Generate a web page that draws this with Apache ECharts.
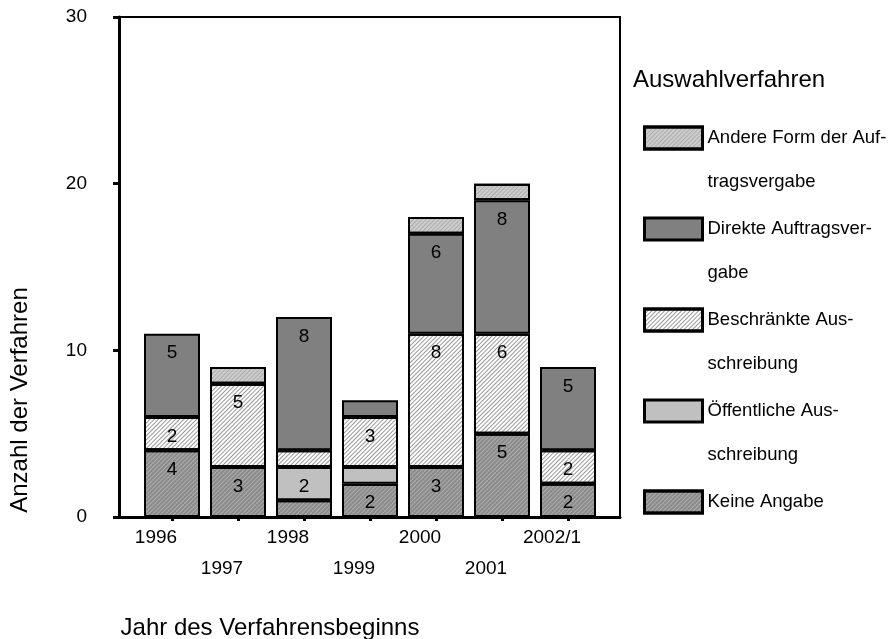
<!DOCTYPE html>
<html>
<head>
<meta charset="utf-8">
<script src="https://cdn.jsdelivr.net/npm/echarts@6/dist/echarts.min.js"></script>
<style>html,body{margin:0;padding:0;background:#fff}#c{width:894px;height:639px}</style>
</head>
<body>
<div id="c"></div>
<script>
const categories = ['1996','1997','1998','1999','2000','2001','2002/1'];
const keineAngabe = [4,3,1,2,3,5,2];
const oeffentliche = [0,0,2,1,0,0,0];
const beschraenkte = [2,5,1,3,8,6,2];
const direkte = [5,0,8,1,6,8,5];
const andere = [0,1,0,0,1,1,0];
const yTicks = [0,10,20,30];

const seriesNames = ['Keine Angabe','Öffentliche Ausschreibung','Beschränkte Ausschreibung','Direkte Auftragsvergabe','Andere Form der Auftragsvergabe'];
const legendLabels = {
  'Andere Form der Auftragsvergabe': '\nAndere Form der Auf-\ntragsvergabe',
  'Direkte Auftragsvergabe': '\nDirekte Auftragsver-\ngabe',
  'Beschränkte Ausschreibung': '\nBeschränkte Aus-\nschreibung',
  'Öffentliche Ausschreibung': '\nÖffentliche Aus-\nschreibung',
  'Keine Angabe': '\nKeine Angabe\n '
};
const FONT = 'Liberation Sans, Arial, sans-serif';

function hatch(color){
  return {symbol:'rect', symbolSize:1, dashArrayX:[[1,0]], dashArrayY:[1,2], rotation:-Math.PI/4, color:color};
}
const styles = [
  {color:'#8a8a8a', decal:hatch('rgba(255,255,255,0.3)')},
  {color:'#c0c0c0', decal:null},
  {color:'#ffffff', decal:hatch('rgba(0,0,0,0.4)')},
  {color:'#808080', decal:null},
  {color:'#cdcdcd', decal:hatch('rgba(0,0,0,0.16)')}
];
const values = [keineAngabe, oeffentliche, beschraenkte, direkte, andere];

const series = seriesNames.map((name,i)=>({
  name:name, type:'bar', stack:'all', xAxisIndex:0, yAxisIndex:0,
  barWidth:56,
  data: values[i].map(v=> v===0 ? null : v),
  itemStyle:{color:styles[i].color, borderColor:'#000', borderWidth:2, decal:styles[i].decal || undefined},
  label:{show:true, position:'insideTop', distance:10, fontFamily:FONT, fontSize:19, color:'#000',
    formatter:p=> p.value>=2 ? String(p.value) : ''},
  emphasis:{disabled:true}
}));

const chart = echarts.init(document.getElementById('c'), null, {renderer:'canvas'});
chart.setOption({
  animation:false,
  backgroundColor:'#fff',
  grid:[
    {left:139, width:462, top:17, height:500},
    {left:119, width:501, top:17, height:500, show:true, borderColor:'#000', borderWidth:2, backgroundColor:'transparent'}
  ],
  xAxis:[
    {type:'category', gridIndex:0, data:categories,
     axisLine:{show:false},
     axisTick:{show:true, alignWithLabel:true, length:4, lineStyle:{color:'#000', width:3}},
     axisLabel:{interval:0, margin:5, fontFamily:FONT, fontSize:19, color:'#000', lineHeight:31,
       padding:[0,32,0,0],
       formatter:(v,i)=> i%2 ? '\n'+v : v}},
    {type:'value', gridIndex:1, min:0, max:1, axisLine:{show:true, onZero:false, lineStyle:{color:'#000', width:3}},
     axisTick:{show:false}, axisLabel:{show:false}, splitLine:{show:false}}
  ],
  yAxis:[
    {type:'value', gridIndex:0, min:0, max:30, show:false, splitLine:{show:false}},
    {type:'value', gridIndex:1, min:0, max:30, interval:10,
     axisLine:{show:true, lineStyle:{color:'#000', width:3}},
     axisTick:{show:true, length:6, lineStyle:{color:'#000', width:3}},
     axisLabel:{margin:32, fontFamily:FONT, fontSize:19, color:'#000', padding:[0,0,6,0],
       formatter:v=> yTicks.includes(v) ? String(v) : ''},
     splitLine:{show:false}}
  ],
  legend:{
    orient:'vertical', left:643, top:72, padding:0, itemGap:-41,
    itemWidth:58, itemHeight:22, icon:'rect',
    data:['Andere Form der Auftragsvergabe','Direkte Auftragsvergabe','Beschränkte Ausschreibung','Öffentliche Ausschreibung','Keine Angabe'],
    itemStyle:{borderColor:'#000', borderWidth:3},
    formatter:n=>legendLabels[n],
    textStyle:{fontFamily:FONT, fontSize:18.5, color:'#000', lineHeight:44},
    selectedMode:false
  },
  graphic:[
    {type:'text', left:633, top:68, style:{text:'Auswahlverfahren', font:'24px '+FONT, fill:'#000'}},
    {type:'text', x:20, y:400, rotation:Math.PI/2, style:{text:'Anzahl der Verfahren', font:'24px '+FONT, fill:'#000', align:'center', verticalAlign:'middle'}},
    {type:'text', x:270, y:628, style:{text:'Jahr des Verfahrensbeginns', font:'24px '+FONT, fill:'#000', align:'center', verticalAlign:'middle'}}
  ],
  series:series
});
</script>
</body>
</html>
